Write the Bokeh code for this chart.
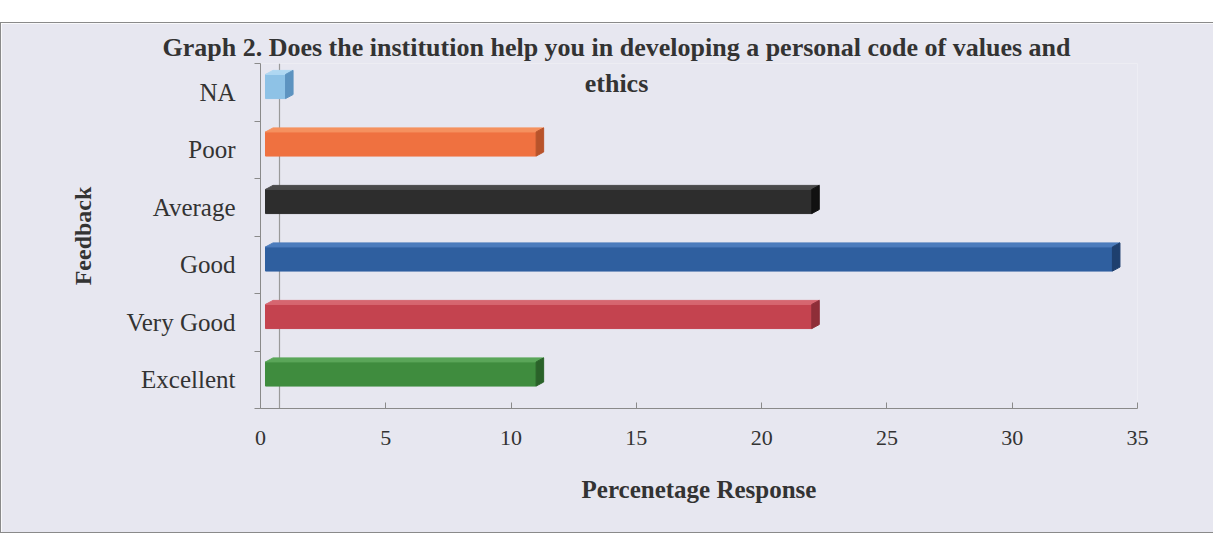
from bokeh.plotting import figure
from bokeh.models import FixedTicker, Label, ColumnDataSource, Title
from bokeh.embed import file_html
from bokeh.resources import INLINE

# ---- data ----
categories = ["Excellent", "Very Good", "Good", "Average", "Poor", "NA"]
values = [11, 22, 34, 22, 11, 1]
x_ticks = [0, 5, 10, 15, 20, 25, 30, 35]
title_line1 = "Graph 2. Does the institution help you in developing a personal code of values and"
title_line2 = "ethics"
x_label = "Percenetage Response"
y_label = "Feedback"

# ---- styles ----
face_colors = ["#3f8c3e", "#c4434f", "#2f5f9f", "#2d2d2d", "#ef7140", "#8ec2e6"]
top_colors = ["#5aa659", "#d66670", "#4c7cbc", "#4a4a4a", "#f5915f", "#b0d8f2"]
side_colors = ["#2a6229", "#8e2e38", "#1e3f6e", "#111111", "#b8532a", "#5d93c0"]
BG = "#e7e7f0"
SERIF = "Liberation Serif"
TXT = "#333333"
bar_h = 0.42
bar_shift = 0.1
dx = 0.3
dy = 0.07
wall_x = 0.75

ypos = list(range(len(categories)))
ybar = [y + bar_shift for y in ypos]

p = figure(width=1213, height=511, x_range=(0, 35), y_range=(-0.5, len(categories) - 0.5),
           output_backend="svg", toolbar_location=None,
           min_border_left=259, min_border_right=77, min_border_top=40, min_border_bottom=126)
p.margin = (22, 0, 0, 0)
p.styles = {"border-left": "1px solid #8a8a8a", "border-top": "1px solid #8a8a8a",
            "border-bottom": "1px solid #8a8a8a"}
p.background_fill_color = BG
p.border_fill_color = BG
p.outline_line_color = None
p.grid.visible = False

# back wall line (drawn first, so it stays behind the bars)
p.vspan(x=[wall_x], line_color="#9a9a9a", line_width=1.2)

src = ColumnDataSource(dict(y=ybar, right=values, color=face_colors, cat=categories))
p.hbar(y="y", left=0.2, right="right", height=bar_h, fill_color="color",
       line_color="color", source=src)

top_xs = [[0.2, v, v + dx, 0.2 + dx] for v in values]
top_ys = [[y + bar_h / 2, y + bar_h / 2, y + bar_h / 2 + dy, y + bar_h / 2 + dy] for y in ybar]
p.patches(top_xs, top_ys, fill_color=top_colors, line_color=top_colors)
side_xs = [[v, v + dx, v + dx, v] for v in values]
side_ys = [[y - bar_h / 2, y - bar_h / 2 + dy, y + bar_h / 2 + dy, y + bar_h / 2] for y in ybar]
p.patches(side_xs, side_ys, fill_color=side_colors, line_color=side_colors)

# axes
xa = p.xaxis[0]
xa.ticker = FixedTicker(ticks=x_ticks)
xa.major_tick_in = 6
xa.major_tick_out = 0
xa.minor_tick_line_color = None
xa.axis_line_color = "#8a8a8a"
xa.major_tick_line_color = "#8a8a8a"
xa.major_label_text_font = SERIF
xa.major_label_text_font_size = "22px"
xa.major_label_text_color = TXT
xa.major_label_standoff = 22
xa.axis_label = x_label
xa.axis_label_text_font = SERIF
xa.axis_label_text_font_style = "bold"
xa.axis_label_text_font_size = "25px"
xa.axis_label_text_color = TXT
xa.axis_label_standoff = 28

ya = p.yaxis[0]
ya.ticker = FixedTicker(ticks=ypos, minor_ticks=[y - 0.5 for y in ypos] + [ypos[-1] + 0.5])
ya.major_label_overrides = {y: c for y, c in zip(ypos, categories)}
ya.major_tick_in = 0
ya.major_tick_out = 0
ya.minor_tick_in = 0
ya.minor_tick_out = 6
ya.axis_line_color = "#8a8a8a"
ya.minor_tick_line_color = "#8a8a8a"
ya.major_label_text_font = SERIF
ya.major_label_text_font_size = "25px"
ya.major_label_text_color = TXT
ya.major_label_standoff = 19
ya.axis_label = y_label
ya.axis_label_text_font = SERIF
ya.axis_label_text_font_style = "bold"
ya.axis_label_text_font_size = "24px"
ya.axis_label_text_color = TXT
ya.axis_label_standoff = 27

# title: first line above the frame, second line inside it
p.add_layout(Title(text=title_line1, align="left", offset=-98, standoff=4,
                   text_font=SERIF, text_font_style="bold", text_font_size="26px",
                   text_color=TXT), "above")
p.add_layout(Label(x=356, y=325, x_units="screen", y_units="screen", text=title_line2,
                   text_align="center", text_baseline="middle", text_font=SERIF,
                   text_font_style="bold", text_font_size="26px", text_color=TXT))

open("out.html", "w").write(file_html(p, INLINE))
